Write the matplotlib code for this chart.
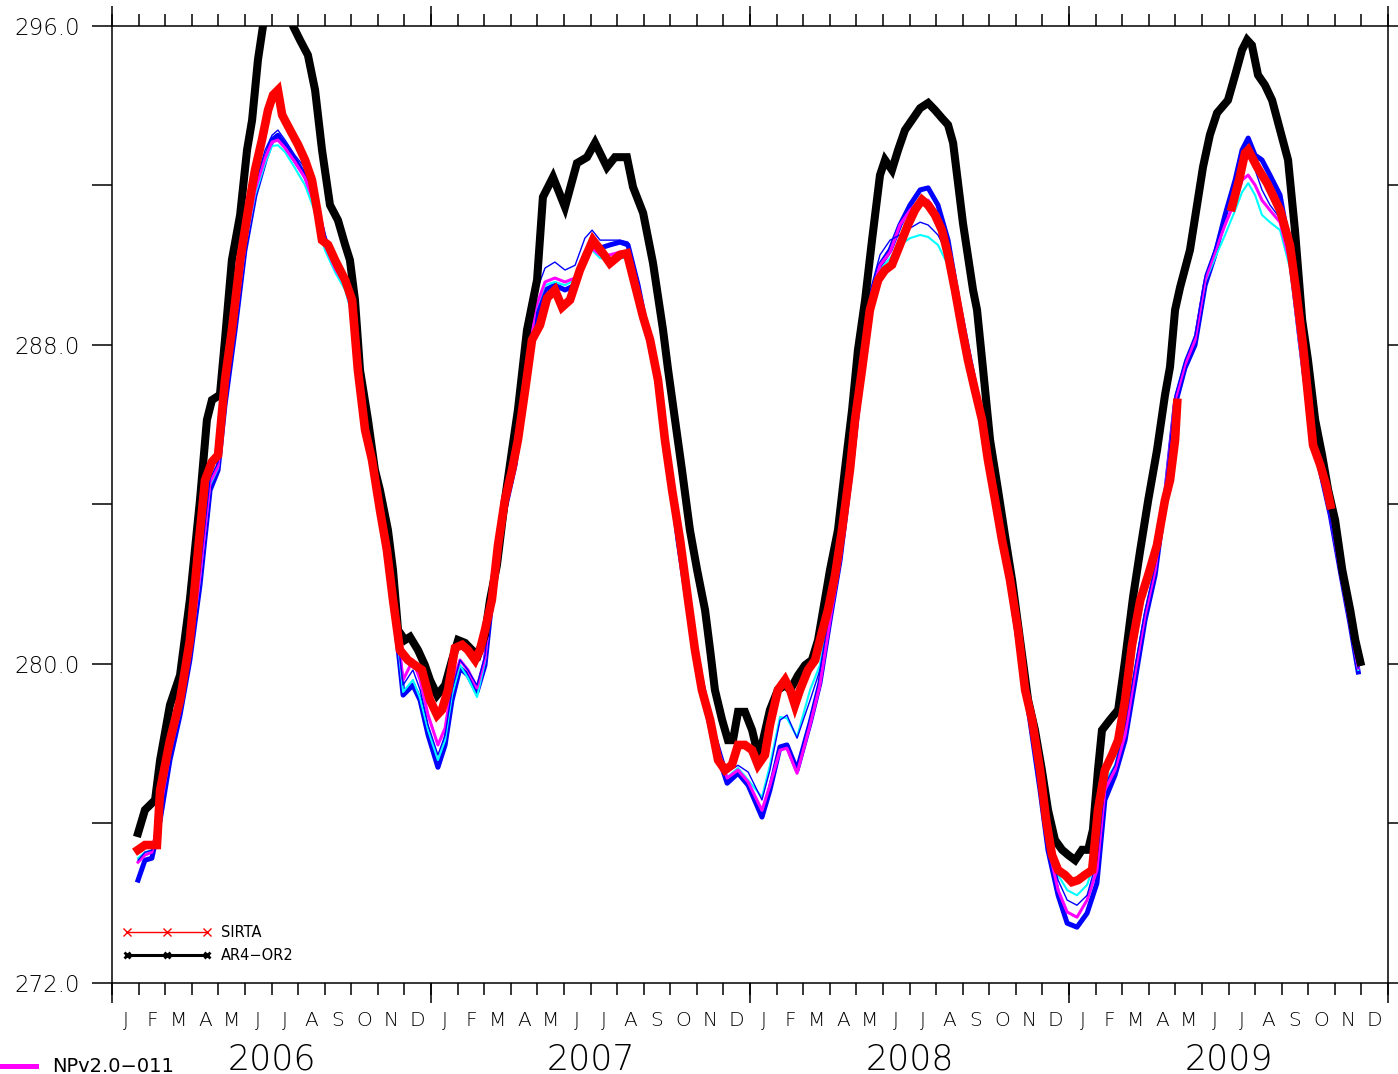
import matplotlib
matplotlib.use("Agg")
import matplotlib.pyplot as plt
from matplotlib.lines import Line2D

NaN = float("nan")

# Time axis: months elapsed since 1 January 2006; temperatures in K.
MONTH_LETTERS = list("JFMAMJJASOND") * 4
YEARS = ["2006", "2007", "2008", "2009"]
Y_MAJOR = [272.0, 280.0, 288.0, 296.0]
Y_MINOR = [276.0, 284.0, 292.0]

# AR4-OR2 run (time, value)
AR4_OR2 = [
    (0.98, 275.76), (1.24, 276.34), (1.62, 276.59), (1.81, 277.59), (2.18, 278.97),
    (2.56, 279.72), (2.93, 281.61), (3.31, 284.11), (3.57, 286.12), (3.76, 286.62),
    (4.06, 286.75), (4.25, 288.13), (4.51, 290.13), (4.82, 291.26), (5.08, 292.89),
    (5.27, 293.64), (5.49, 295.15), (5.68, 296.00), (6.00, 296.70), (6.30, 297.00),
    (6.60, 296.60), (6.81, 296.00), (7.07, 295.65), (7.37, 295.27), (7.64, 294.39),
    (7.90, 292.89), (8.20, 291.51), (8.50, 291.13), (8.77, 290.51), (8.95, 290.13),
    (9.14, 289.13), (9.33, 287.37), (9.63, 286.12), (9.89, 284.87), (10.08, 284.36),
    (10.38, 283.36), (10.57, 282.36), (10.76, 280.85), (11.02, 280.60), (11.21, 280.68),
    (11.51, 280.35), (11.77, 279.97), (11.96, 279.60), (12.23, 279.22), (12.53, 279.47),
    (12.79, 280.10), (13.02, 280.60), (13.28, 280.53), (13.54, 280.35), (13.77, 280.23),
    (14.03, 280.73), (14.22, 281.61), (14.48, 282.48), (14.78, 284.11), (15.05, 285.37),
    (15.27, 286.37), (15.61, 288.37), (15.99, 289.63), (16.21, 291.71), (16.59, 292.21),
    (17.04, 291.46), (17.49, 292.56), (17.87, 292.71), (18.17, 293.07), (18.62, 292.46),
    (18.92, 292.71), (19.37, 292.71), (19.60, 291.96), (19.98, 291.31), (20.35, 290.06),
    (20.73, 288.37), (20.92, 287.37), (21.18, 286.12), (21.44, 284.87), (21.74, 283.36),
    (22.01, 282.36), (22.31, 281.35), (22.50, 280.35), (22.68, 279.35), (22.95, 278.60),
    (23.17, 278.09), (23.36, 278.09), (23.55, 278.80), (23.81, 278.80), (24.08, 278.34),
    (24.30, 277.72), (24.49, 278.09), (24.75, 278.85), (25.05, 279.35), (25.32, 279.47),
    (25.51, 279.35), (25.81, 279.72), (26.07, 279.97), (26.33, 280.10), (26.56, 280.60),
    (26.82, 281.61), (27.01, 282.36), (27.31, 283.36), (27.57, 284.87), (27.84, 286.37),
    (28.06, 287.87), (28.33, 289.13), (28.59, 290.63), (28.89, 292.26), (29.08, 292.64),
    (29.34, 292.39), (29.57, 292.89), (29.83, 293.39), (30.09, 293.64), (30.40, 293.94),
    (30.70, 294.07), (30.96, 293.89), (31.22, 293.69), (31.45, 293.52), (31.64, 293.07),
    (32.01, 291.06), (32.39, 289.38), (32.54, 288.88), (32.77, 287.37), (33.03, 285.62),
    (33.33, 284.36), (33.59, 283.23), (33.86, 282.10), (34.16, 280.60), (34.46, 279.10),
    (34.72, 278.34), (34.98, 277.34), (35.21, 276.34), (35.47, 275.59), (35.74, 275.34),
    (35.97, 275.21), (36.23, 275.08), (36.49, 275.34), (36.72, 275.34), (36.90, 275.84),
    (37.09, 277.34), (37.24, 278.34), (37.54, 278.60), (37.85, 278.85), (38.11, 280.10),
    (38.41, 281.68), (38.68, 282.86), (38.98, 284.11), (39.31, 285.36), (39.61, 286.74),
    (39.80, 287.45), (39.99, 288.88), (40.18, 289.45), (40.55, 290.38), (41.04, 292.46),
    (41.30, 293.27), (41.57, 293.82), (41.98, 294.14), (42.25, 294.77), (42.51, 295.40),
    (42.70, 295.65), (42.88, 295.52), (43.11, 294.77), (43.37, 294.52), (43.64, 294.14),
    (43.94, 293.39), (44.24, 292.64), (44.50, 290.88), (44.77, 288.63), (44.99, 287.62),
    (45.26, 286.12), (45.52, 285.24), (45.75, 284.36), (46.01, 283.61), (46.28, 282.36),
    (46.58, 281.35), (46.77, 280.60), (46.96, 280.05),
]

# SIRTA observations (time, value); NaN marks the spring 2009 data gap
SIRTA = [
    (0.98, 275.34), (1.24, 275.46), (1.50, 275.46), (1.69, 275.46), (1.81, 276.84),
    (2.18, 278.09), (2.56, 279.10), (2.93, 280.60), (3.24, 282.86), (3.50, 284.61),
    (3.76, 285.07), (3.99, 285.24), (4.25, 287.12), (4.51, 288.38), (4.82, 290.13),
    (5.12, 291.39), (5.38, 292.39), (5.64, 293.14), (5.87, 293.89), (6.06, 294.27),
    (6.24, 294.39), (6.40, 293.77), (6.70, 293.39), (7.00, 293.02), (7.26, 292.64),
    (7.52, 292.14), (7.75, 291.26), (7.90, 290.63), (8.13, 290.51), (8.39, 290.13),
    (8.77, 289.63), (9.03, 289.13), (9.25, 287.37), (9.52, 285.87), (9.78, 285.12),
    (10.08, 283.86), (10.34, 282.86), (10.57, 281.61), (10.83, 280.35), (11.13, 280.10),
    (11.40, 279.97), (11.66, 279.85), (11.96, 279.10), (12.23, 278.72), (12.41, 278.85),
    (12.64, 279.35), (12.90, 280.40), (13.17, 280.48), (13.39, 280.35), (13.66, 280.10),
    (13.84, 280.35), (14.03, 280.85), (14.29, 281.61), (14.52, 282.98), (14.78, 284.11),
    (15.05, 284.87), (15.27, 285.62), (15.54, 286.87), (15.80, 288.13), (16.10, 288.50),
    (16.37, 289.18), (16.66, 289.38), (16.93, 288.95), (17.23, 289.13), (17.60, 289.88),
    (18.09, 290.63), (18.47, 290.30), (18.73, 290.05), (19.11, 290.26), (19.37, 290.30),
    (19.60, 289.70), (19.98, 288.70), (20.24, 288.13), (20.54, 287.12), (20.80, 285.62),
    (21.07, 284.36), (21.37, 283.11), (21.67, 281.61), (21.93, 280.35), (22.19, 279.35),
    (22.50, 278.60), (22.80, 277.59), (23.06, 277.34), (23.32, 277.47), (23.55, 277.97),
    (23.81, 277.97), (24.08, 277.84), (24.30, 277.47), (24.56, 277.72), (24.75, 278.47),
    (25.05, 279.35), (25.32, 279.60), (25.51, 279.35), (25.69, 278.97), (25.88, 279.35),
    (26.18, 279.85), (26.45, 280.10), (26.63, 280.60), (26.93, 281.35), (27.20, 282.23),
    (27.46, 283.36), (27.76, 284.87), (27.95, 286.12), (28.21, 287.37), (28.51, 288.88),
    (28.82, 289.63), (29.08, 289.88), (29.34, 290.01), (29.64, 290.51), (29.94, 291.01),
    (30.21, 291.39), (30.47, 291.64), (30.70, 291.51), (30.96, 291.26), (31.22, 290.88),
    (31.45, 290.26), (31.71, 289.38), (31.98, 288.38), (32.20, 287.62), (32.46, 286.87),
    (32.73, 286.12), (32.95, 285.12), (33.22, 284.11), (33.48, 283.11), (33.78, 282.11),
    (34.08, 280.85), (34.35, 279.35), (34.61, 278.60), (34.91, 277.34), (35.14, 276.09),
    (35.36, 275.21), (35.59, 274.83), (35.85, 274.71), (36.11, 274.53), (36.34, 274.58),
    (36.60, 274.71), (36.87, 274.83), (37.09, 276.34), (37.35, 277.34), (37.62, 277.72),
    (37.85, 278.09), (38.11, 279.10), (38.37, 280.47), (38.68, 281.60), (38.98, 282.23),
    (39.31, 282.98), (39.61, 284.11), (39.80, 284.61), (39.99, 285.62), (40.07, 286.55),
    (41.00, NaN),
    (42.13, 291.46), (42.40, 292.14), (42.62, 292.81), (42.74, 292.89), (43.08, 292.46),
    (43.45, 292.06), (43.94, 291.38), (44.31, 290.51), (44.54, 289.38), (44.80, 288.00),
    (44.99, 286.74), (45.18, 285.49), (45.45, 284.99), (45.67, 284.49), (45.83, 283.99),
]

# Model ensemble members, sampled on a shared time grid
MODEL_T = [
    0.98, 1.24, 1.50, 1.81, 2.18, 2.56, 2.93, 3.31, 3.69, 3.99,
    4.25, 4.63, 5.00, 5.38, 5.76, 6.02, 6.24, 6.51, 6.88, 7.26,
    7.64, 8.01, 8.39, 8.77, 9.14, 9.52, 9.89, 10.27, 10.65, 10.95,
    11.32, 11.59, 11.89, 12.26, 12.53, 12.79, 13.09, 13.39, 13.73, 14.03,
    14.41, 14.78, 15.16, 15.54, 15.91, 16.29, 16.66, 17.04, 17.42, 17.79,
    18.06, 18.36, 18.73, 19.11, 19.41, 19.79, 20.16, 20.54, 20.92, 21.29,
    21.74, 22.12, 22.61, 23.14, 23.55, 23.93, 24.45, 24.75, 25.13, 25.39,
    25.77, 26.26, 26.63, 27.01, 27.39, 27.76, 28.14, 28.51, 28.89, 29.27,
    29.64, 30.02, 30.40, 30.70, 31.07, 31.45, 31.83, 32.20, 32.58, 33.03,
    33.40, 33.78, 34.16, 34.53, 34.91, 35.21, 35.59, 35.93, 36.30, 36.68,
    37.05, 37.35, 37.73, 38.11, 38.49, 38.86, 39.24, 39.61, 39.99, 40.36,
    40.74, 41.12, 41.49, 41.87, 42.25, 42.51, 42.74, 43.00, 43.26, 43.56,
    43.94, 44.31, 44.69, 45.07, 45.45, 45.83, 46.20, 46.58, 46.88,
]

MODEL_BLUE = [
    274.58, 275.08, 275.13, 276.08, 277.59, 278.72, 280.10, 281.98, 284.36, 284.86,
    286.49, 288.37, 290.38, 291.76, 292.64, 293.14, 293.26, 293.01, 292.64, 292.26,
    291.63, 290.63, 290.00, 289.58, 288.62, 286.12, 284.66, 282.98, 281.10, 279.22,
    279.47, 279.09, 278.22, 277.41, 277.97, 279.09, 279.90, 279.72, 279.30, 279.97,
    282.35, 283.86, 284.99, 286.87, 288.62, 289.38, 289.50, 289.38, 289.50, 290.26,
    290.51, 290.43, 290.51, 290.58, 290.51, 289.50, 288.25, 286.99, 285.24, 283.11,
    281.10, 279.60, 278.09, 277.01, 277.26, 276.96, 276.16, 276.84, 277.92, 277.97,
    277.34, 278.52, 279.52, 281.10, 282.61, 284.61, 286.87, 289.00, 290.00, 290.38,
    291.01, 291.51, 291.89, 291.94, 291.51, 290.63, 289.13, 287.87, 286.62, 284.99,
    283.36, 281.98, 280.22, 278.59, 276.84, 275.33, 274.20, 273.50, 273.40, 273.75,
    274.50, 276.59, 277.21, 278.09, 279.60, 281.10, 282.23, 284.11, 286.49, 287.42,
    288.00, 289.50, 290.26, 291.26, 292.14, 292.89, 293.19, 292.76, 292.64, 292.26,
    291.76, 290.38, 288.12, 286.12, 284.86, 283.73, 282.35, 280.98, 279.80,
]

MODEL_THIN_BLUE = [
    275.08, 275.28, 275.33, 276.46, 277.84, 278.89, 280.35, 282.35, 284.66, 285.06,
    286.74, 288.67, 290.63, 292.01, 292.89, 293.26, 293.39, 293.14, 292.76, 292.44,
    291.83, 290.76, 290.18, 289.75, 288.88, 286.32, 284.86, 283.11, 281.23, 279.47,
    279.85, 279.35, 278.47, 277.72, 278.22, 279.35, 280.10, 279.85, 279.47, 280.22,
    282.61, 284.11, 285.24, 287.37, 289.25, 289.93, 290.08, 289.88, 290.00, 290.68,
    290.88, 290.63, 290.63, 290.63, 290.58, 289.63, 288.37, 287.12, 285.36, 283.36,
    281.48, 279.97, 278.47, 277.29, 277.46, 277.29, 276.59, 277.34, 278.59, 278.72,
    278.14, 279.09, 279.85, 281.35, 282.86, 284.99, 287.24, 289.33, 290.26, 290.63,
    290.76, 290.93, 291.08, 291.01, 290.76, 290.26, 289.18, 287.92, 286.74, 285.11,
    283.48, 282.10, 280.47, 278.84, 277.09, 275.58, 274.58, 274.08, 273.95, 274.20,
    275.08, 276.96, 277.46, 278.47, 279.97, 281.35, 282.48, 284.36, 286.74, 287.62,
    288.25, 289.75, 290.43, 291.26, 292.01, 292.64, 292.76, 292.39, 291.89, 291.51,
    291.18, 290.13, 287.99, 285.99, 284.74, 283.61, 282.30, 280.90, 279.90,
]

NPV20_011 = [
    275.03, 275.21, 275.28, 276.33, 277.79, 278.84, 280.22, 282.23, 284.56, 284.96,
    286.67, 288.57, 290.51, 291.89, 292.69, 293.09, 293.14, 292.94, 292.59, 292.19,
    291.51, 290.51, 289.93, 289.50, 288.57, 286.17, 284.74, 283.06, 281.30, 279.60,
    280.10, 279.60, 278.72, 277.97, 278.39, 279.47, 280.10, 279.85, 279.40, 280.15,
    282.48, 283.99, 285.11, 287.12, 288.88, 289.58, 289.68, 289.58, 289.68, 290.33,
    290.43, 290.26, 290.26, 290.33, 290.33, 289.38, 288.17, 286.92, 285.16, 283.16,
    281.23, 279.80, 278.22, 277.14, 277.34, 277.04, 276.33, 276.96, 277.84, 277.89,
    277.26, 278.47, 279.47, 281.10, 282.61, 284.74, 286.99, 289.13, 290.00, 290.33,
    291.01, 291.38, 291.63, 291.63, 291.26, 290.51, 289.00, 287.82, 286.62, 284.99,
    283.23, 281.85, 280.22, 278.64, 276.96, 275.46, 274.33, 273.78, 273.65, 274.08,
    274.83, 276.84, 277.34, 278.22, 279.80, 281.23, 282.35, 284.24, 286.62, 287.50,
    288.12, 289.63, 290.33, 291.01, 291.63, 292.14, 292.26, 292.01, 291.63, 291.38,
    291.08, 290.08, 287.99, 286.07, 284.86, 283.73, 282.35, 280.98, 279.90,
]

MODEL_CYAN = [
    275.13, 275.28, 275.33, 276.39, 277.79, 278.84, 280.22, 282.15, 284.49, 284.91,
    286.62, 288.50, 290.43, 291.76, 292.56, 292.99, 293.01, 292.84, 292.44, 292.01,
    291.33, 290.38, 289.83, 289.38, 288.50, 286.07, 284.66, 282.98, 281.15, 279.30,
    279.60, 279.14, 278.34, 277.59, 278.09, 279.22, 279.97, 279.65, 279.17, 280.05,
    282.41, 283.91, 285.06, 286.99, 288.83, 289.50, 289.58, 289.50, 289.63, 290.26,
    290.38, 290.18, 290.13, 290.18, 290.18, 289.25, 288.07, 286.82, 285.06, 282.98,
    281.05, 279.65, 278.14, 277.16, 277.39, 277.09, 276.66, 277.46, 278.67, 278.64,
    278.17, 279.35, 279.97, 281.30, 282.73, 284.81, 286.99, 289.00, 289.88, 290.18,
    290.51, 290.68, 290.76, 290.71, 290.51, 290.00, 288.75, 287.67, 286.49, 284.86,
    283.16, 281.80, 280.22, 278.72, 277.09, 275.71, 274.71, 274.33, 274.20, 274.46,
    275.21, 277.04, 277.46, 278.34, 279.85, 281.30, 282.40, 284.31, 286.67, 287.57,
    288.17, 289.58, 290.18, 290.76, 291.38, 291.83, 292.06, 291.76, 291.26, 291.08,
    290.88, 289.93, 287.87, 285.99, 284.81, 283.73, 282.35, 280.98, 279.85,
]

plt.rcParams["font.family"] = ["DejaVu Sans"]

W, H = 1398, 1074
fig = plt.figure(figsize=(W / 100, H / 100), dpi=100)
ax = fig.add_axes([112 / W, 1 - 983 / H, 1276 / W, 957 / H])

# ensemble members underneath, then the reference run and observations
ax.plot(MODEL_T, MODEL_BLUE, color="#0000ff", lw=3.6, zorder=2)
ax.plot(MODEL_T, MODEL_CYAN, color="#00ffff", lw=1.5, zorder=2.1)
ax.plot(MODEL_T, NPV20_011, color="#ff00ff", lw=2.2, zorder=2.2)
ax.plot(MODEL_T, MODEL_THIN_BLUE, color="#0000ff", lw=1.0, zorder=2.3)
ax.plot(*zip(*AR4_OR2), color="black", lw=5.8, zorder=3, solid_joinstyle="miter")
ax.plot(*zip(*SIRTA), color="#ff0000", lw=6.2, zorder=4, solid_joinstyle="miter")

ax.set_xlim(0, 48)
ax.set_ylim(Y_MAJOR[0], Y_MAJOR[-1])

for s in ax.spines.values():
    s.set_linewidth(1.1)

# y axis
ax.set_yticks(Y_MAJOR, labels=[f"{v:.1f}" for v in Y_MAJOR])
ax.set_yticks(Y_MINOR, minor=True)
ax.tick_params(axis="y", which="both", direction="out", length=14.4, width=1.1,
               left=True, right=True, labelleft=True, labelright=False,
               pad=8.6, labelsize=16.5)

# x axis: month letters at mid-month, ticks on month boundaries
ax.set_xticks([m + 0.5 for m in range(48)], labels=MONTH_LETTERS)
ax.set_xticks(range(49), minor=True)
ax.tick_params(axis="x", which="major", length=0, pad=20, labelsize=14.5,
               top=False, bottom=True)
ax.tick_params(axis="x", which="minor", direction="out", length=8.6, width=1.1,
               top=True, bottom=True)
for lab in ax.get_xticklabels() + ax.get_yticklabels():
    lab.set_fontweight("light")

# longer ticks at year boundaries, year labels below the months
for loc in ("top", "bottom"):
    sec = ax.secondary_xaxis(loc)
    for s in sec.spines.values():
        s.set_visible(False)
    sec.set_xticks(range(0, 49, 12), labels=[""] * 5)
    sec.tick_params(which="major", direction="out", length=14.4, width=1.1)
    if loc == "bottom":
        sec.set_xticks([6 + 12 * i for i in range(4)], labels=YEARS, minor=True)
        sec.tick_params(which="minor", length=0, pad=42.5, labelsize=25)
        for lab in sec.get_xticklabels(minor=True):
            lab.set_fontweight("light")
    else:
        sec.set_xticks([], minor=True)

# legend inside the frame
handles = [
    Line2D([], [], color="#ff0000", lw=1.0, marker="x", ms=5.5, mew=1.0),
    Line2D([], [], color="black", lw=2.2, marker="x", ms=4.5, mew=2.0),
]
ax.legend(handles, ["SIRTA", "AR4\u2212OR2"], loc="lower left",
          bbox_to_anchor=(0.0083, 0.0204), borderaxespad=0, borderpad=0,
          frameon=False, numpoints=3, handlelength=6.08, handletextpad=0.66,
          labelspacing=0.58, fontsize=10.5)

# legend entry below the frame
fig.add_artist(Line2D([0, 36 / W], [1 - 1065.5 / H] * 2, transform=fig.transFigure,
                      color="#ff00ff", lw=3.6))
fig.text(52 / W, 1 - 1072 / H, "NPv2.0\u2212011", fontsize=14, va="baseline",
         ha="left")

fig.savefig("out.png", dpi=100)
